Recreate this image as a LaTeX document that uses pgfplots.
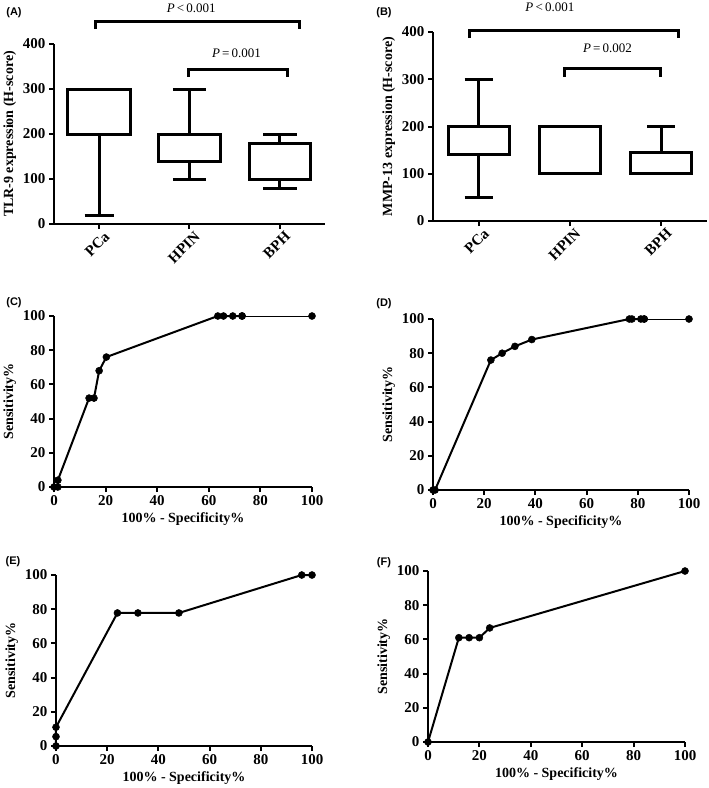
\documentclass[border=0pt]{standalone}
\usepackage{fontspec}
\setmainfont{Liberation Serif}
\newfontfamily\arialfont{Liberation Sans}
\usepackage{pgfplots}
\pgfplotsset{compat=1.18}
\usepgfplotslibrary{statistics}

\pgfplotsset{
  base/.style={scale only axis, axis lines=left, axis line style={-, line width=2pt},
    tick align=outside, major tick length=5pt, tick style={line width=2pt, black},
    every tick label/.append style={font=\fontsize{15}{15}\selectfont\bfseries},
    label style={font=\fontsize{14}{14}\selectfont\bfseries},
    /pgf/number format/assume math mode=true, clip=false},
  bx/.style={base, xmin=0.5, xmax=3.5, ymin=0, ymax=400, ytick={0,100,200,300,400},
    xtick={1,2,3}, xticklabels={PCa,HPIN,BPH},
    xticklabel style={rotate=45, anchor=north east, inner sep=1pt, xshift=3pt, yshift=-3pt}, boxplot/draw direction=y},
  roc/.style={base, xmin=0, xmax=100, ymin=0, ymax=100, xtick={0,20,...,100}, ytick={0,20,...,100},
    xlabel={100\% - Specificity\%}, ylabel={Sensitivity\%}},
  bxp/.style={black, line width=3pt, solid},
  rocline/.style={black, line width=2pt, mark=*, mark size=3.5pt, mark options={solid, line width=0.5pt}},
  rocthin/.style={black, line width=1pt, mark=*, mark size=3.5pt, mark options={solid, line width=0.5pt}},
}
\newcommand{\plab}{\fontsize{13}{13}\selectfont}
\newcommand{\panel}{\arialfont\bfseries\fontsize{11}{11}\selectfont}

\begin{document}
\begin{tikzpicture}
\path[use as bounding box] (0,0) rectangle (709pt,-788pt);

% (A)
\begin{axis}[bx, at={(54pt,-224pt)}, anchor=south west, width=271pt, height=180pt,
  ylabel={TLR-9 expression (H-score)}]
\addplot[bxp, boxplot prepared={draw position=1, lower whisker=20, lower quartile=200, median=200, upper quartile=300, upper whisker=300, box extend=0.70, whisker extend=0.32}] coordinates {};
\addplot[bxp, boxplot prepared={draw position=2, lower whisker=100, lower quartile=140, median=200, upper quartile=200, upper whisker=300, box extend=0.68, whisker extend=0.37}] coordinates {};
\addplot[bxp, boxplot prepared={draw position=3, lower whisker=80, lower quartile=100, median=100, upper quartile=180, upper whisker=200, box extend=0.67, whisker extend=0.37}] coordinates {};
\draw[line width=3pt] (axis cs:0.956,433) -- (axis cs:0.956,449) -- (axis cs:3.22,449) -- (axis cs:3.22,433);
\draw[line width=3pt] (axis cs:1.99,327) -- (axis cs:1.99,344) -- (axis cs:3.09,344) -- (axis cs:3.09,327);
\node[font=\plab] at (axis cs:2.02,480) {\textit{P}\,<\,0.001};
\node[font=\plab] at (axis cs:2.52,380) {\textit{P}\,=\,0.001};
\end{axis}

% (B)
\begin{axis}[bx, at={(433pt,-221pt)}, anchor=south west, width=274pt, height=189pt,
  ylabel={MMP-13 expression (H-score)}]
\addplot[bxp, boxplot prepared={draw position=1, lower whisker=50, lower quartile=140, median=140, upper quartile=200, upper whisker=300, box extend=0.67, whisker extend=0.31}] coordinates {};
\addplot[bxp, boxplot prepared={draw position=2, lower whisker=100, lower quartile=100, median=200, upper quartile=200, upper whisker=200, box extend=0.67, whisker extend=0.31}] coordinates {};
\addplot[bxp, boxplot prepared={draw position=3, lower whisker=100, lower quartile=100, median=100, upper quartile=145, upper whisker=200, box extend=0.67, whisker extend=0.31}] coordinates {};
\draw[line width=3pt] (axis cs:0.90,387) -- (axis cs:0.90,404) -- (axis cs:3.19,404) -- (axis cs:3.19,387);
\draw[line width=3pt] (axis cs:1.945,305) -- (axis cs:1.945,322) -- (axis cs:2.99,322) -- (axis cs:2.99,305);
\node[font=\plab] at (axis cs:1.78,453) {\textit{P}\,<\,0.001};
\node[font=\plab] at (axis cs:2.41,366) {\textit{P}\,=\,0.002};
\end{axis}

% (C)
\begin{axis}[roc, at={(54pt,-487pt)}, anchor=south west, width=258pt, height=171pt]
\addplot[rocline] coordinates {(0,0) (1.5,0) (1.5,4) (13.6,52) (15.5,52) (17.5,68) (20.3,76) (63.5,100) (65.7,100) (69.3,100) (72.9,100)};
\addplot[rocthin] coordinates {(72.9,100) (100,100)};
\end{axis}

% (D)
\begin{axis}[roc, at={(433pt,-490pt)}, anchor=south west, width=256pt, height=171pt]
\addplot[rocline] coordinates {(0,0) (0.8,0) (22.6,76) (27,80) (32,84) (38.6,88) (76.7,100) (77.7,100) (81.2,100) (82.5,100)};
\addplot[rocthin] coordinates {(82.5,100) (100,100)};
\end{axis}

% (E)
\begin{axis}[roc, at={(56pt,-746pt)}, anchor=south west, width=256pt, height=171pt]
\addplot[rocline] coordinates {(0,0) (0,5.5) (0,11) (24,77.8) (32,77.8) (48,77.8) (96,100) (100,100)};
\end{axis}

% (F)
\begin{axis}[roc, at={(428pt,-742pt)}, anchor=south west, width=257pt, height=171pt]
\addplot[rocline] coordinates {(0,0) (12,61) (16,61) (20,61) (24,66.7) (100,100)};
\end{axis}

\node[font=\panel] at (14pt,-13pt) {(A)};
\node[font=\panel] at (384pt,-13pt) {(B)};
\node[font=\panel] at (14pt,-303pt) {(C)};
\node[font=\panel] at (384pt,-304pt) {(D)};
\node[font=\panel] at (13pt,-562pt) {(E)};
\node[font=\panel] at (384pt,-563pt) {(F)};
\end{tikzpicture}
\end{document}
